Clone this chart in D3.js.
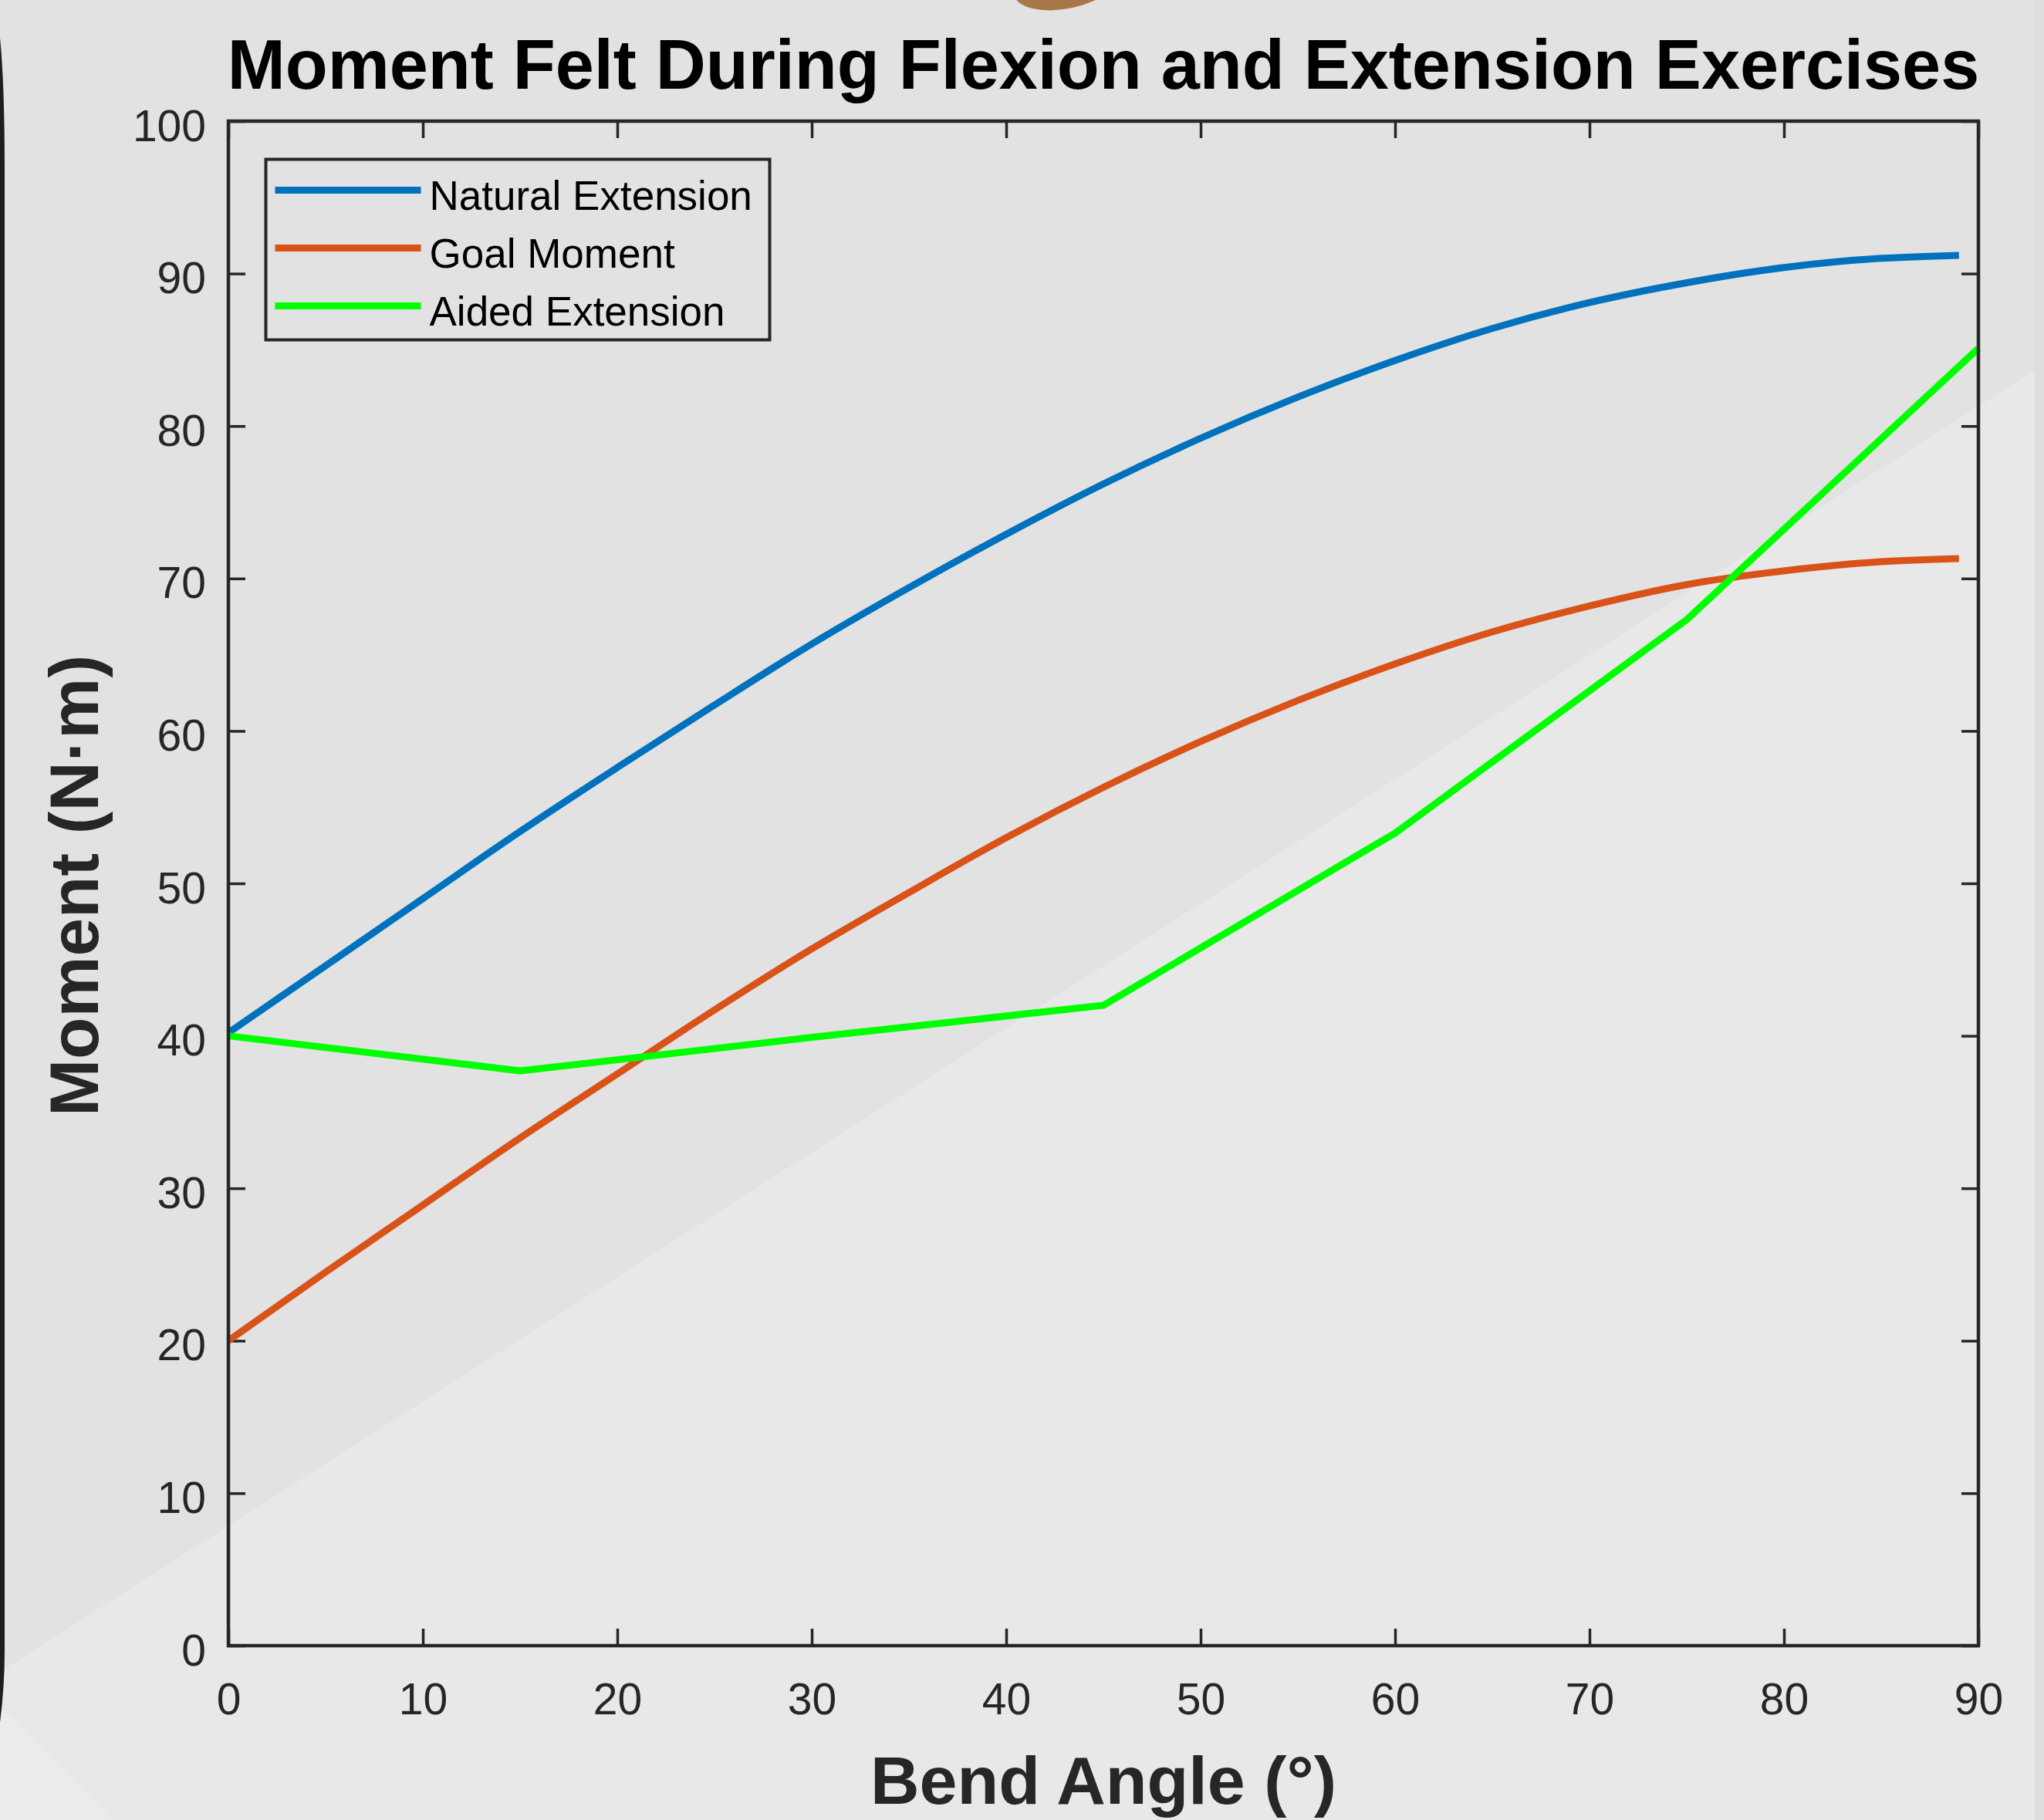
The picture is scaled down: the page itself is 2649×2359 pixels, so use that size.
<!DOCTYPE html>
<html>
<head>
<meta charset="utf-8">
<script src="https://cdn.jsdelivr.net/npm/d3@7"></script>
<style>
  body { margin: 0; background: #e2e2e2; }
  svg { display: block; }
</style>
</head>
<body>
<div class="chart-container"></div>
<script>
// values
const angles = [0, 5, 10, 15, 20, 25, 30, 35, 40, 45, 50, 55, 60, 65, 70, 75, 80, 85, 89];
const naturalExtension = [40.2, 44.6, 49.0, 53.4, 57.6, 61.7, 65.7, 69.4, 72.9, 76.2, 79.2, 81.9, 84.3, 86.4, 88.1, 89.4, 90.4, 91.0, 91.2];
const goalMoment = [20.0, 24.5, 28.9, 33.3, 37.5, 41.7, 45.7, 49.4, 53.0, 56.3, 59.3, 62.0, 64.4, 66.5, 68.2, 69.6, 70.5, 71.1, 71.3];
const aidedAngles = [0, 15, 30, 45, 60, 75, 90];
const aidedExtension = [40.0, 37.7, 39.9, 42.0, 53.3, 67.3, 85.1];

const xTicks = [0, 10, 20, 30, 40, 50, 60, 70, 80, 90];
const yTicks = [0, 10, 20, 30, 40, 50, 60, 70, 80, 90, 100];

const seriesNames = ['Natural Extension', 'Goal Moment', 'Aided Extension'];
const seriesColors = ['#0072bd', '#d95319', '#00ff00'];

const W = 2649, H = 2359;
const margin = { top: 157, right: W - 2564, bottom: H - 2133, left: 296 };
const width = W - margin.left - margin.right;
const height = H - margin.top - margin.bottom;
const FONT = '"Liberation Sans", Arial, Helvetica, sans-serif';

const series = [
    { name: seriesNames[0], color: seriesColors[0], curve: d3.curveMonotoneX,
      values: angles.map((a, i) => ({ x: a, y: naturalExtension[i] })) },
    { name: seriesNames[1], color: seriesColors[1], curve: d3.curveMonotoneX,
      values: angles.map((a, i) => ({ x: a, y: goalMoment[i] })) },
    { name: seriesNames[2], color: seriesColors[2], curve: d3.curveLinear,
      values: aidedAngles.map((a, i) => ({ x: a, y: aidedExtension[i] })) }
];

const svg = d3.select('.chart-container')
    .append('svg')
    .attr('width', W)
    .attr('height', H);

// background: photographed poster with faint light patches
svg.append('rect').attr('width', W).attr('height', H).attr('fill', '#e2e2e2');
svg.append('path')
    .attr('d', `M0,2167 L2649,472 L2649,${H} L0,${H} Z`)
    .attr('fill', '#e8e8e8');
svg.append('path')
    .attr('d', `M0,2213 L146,${H} L0,${H} Z`)
    .attr('fill', '#ececec');
svg.append('rect')
    .attr('x', 2637).attr('y', 0).attr('width', 12).attr('height', H)
    .attr('fill', '#dddddd');
svg.append('ellipse')
    .attr('cx', 1382).attr('cy', -22).attr('rx', 70).attr('ry', 33)
    .attr('transform', 'rotate(-12, 1382, -22)')
    .attr('fill', '#a9764a');
svg.append('path')
    .attr('d', 'M-4,40 Q3,100 3,220 L3,2140 Q3,2190 -4,2240')
    .attr('fill', 'none')
    .attr('stroke', '#1e1e1e')
    .attr('stroke-width', 6);

const g = svg.append('g')
    .attr('transform', `translate(${margin.left}, ${margin.top})`);

// scales
const xScale = d3.scaleLinear().domain([0, 90]).range([0, width]);
const yScale = d3.scaleLinear().domain([0, 100]).range([height, 0]);

// axes (box style, ticks pointing inward)
const tickLen = 22;
function styleAxis(sel) {
    sel.select('.domain').remove();
    sel.selectAll('.tick line')
        .attr('stroke', '#262626')
        .attr('stroke-width', 3.5);
    sel.selectAll('.tick text')
        .attr('fill', '#262626')
        .style('font-family', FONT)
        .style('font-size', '57px');
}

const xAxis = g.append('g')
    .attr('class', 'x axis')
    .attr('transform', `translate(0, ${height})`)
    .call(d3.axisBottom(xScale).tickValues(xTicks).tickSizeInner(-tickLen).tickSizeOuter(0).tickPadding(0))
    .call(styleAxis);
xAxis.selectAll('.tick text').attr('y', 89).attr('dy', 0);

g.append('g')
    .attr('class', 'x axis top')
    .call(d3.axisTop(xScale).tickValues(xTicks).tickSizeInner(-tickLen).tickSizeOuter(0).tickFormat(''))
    .call(styleAxis);

const yAxis = g.append('g')
    .attr('class', 'y axis')
    .call(d3.axisLeft(yScale).tickValues(yTicks).tickSizeInner(-tickLen).tickSizeOuter(0).tickPadding(29))
    .call(styleAxis);
yAxis.selectAll('.tick text').attr('dy', '0.44em');

g.append('g')
    .attr('class', 'y axis right')
    .attr('transform', `translate(${width}, 0)`)
    .call(d3.axisRight(yScale).tickValues(yTicks).tickSizeInner(-tickLen).tickSizeOuter(0).tickFormat(''))
    .call(styleAxis);

// lines
const lineGen = d3.line()
    .x(d => xScale(d.x))
    .y(d => yScale(d.y));

g.append('g')
    .attr('class', 'line-chart')
    .selectAll('.line-series')
    .data(series)
    .enter()
        .append('path')
        .attr('class', 'line-series')
        .attr('d', d => lineGen.curve(d.curve)(d.values))
        .attr('fill', 'none')
        .attr('stroke', d => d.color)
        .attr('stroke-width', 9)
        .attr('stroke-linejoin', 'round');

// axes box
g.append('rect')
    .attr('width', width)
    .attr('height', height)
    .attr('fill', 'none')
    .attr('stroke', '#262626')
    .attr('stroke-width', 4.5);

// legend
const legend = g.append('g')
    .attr('class', 'legend')
    .attr('transform', `translate(${344.5 - margin.left}, ${206.5 - margin.top})`);

legend.append('rect')
    .attr('width', 653)
    .attr('height', 234)
    .attr('fill', '#e2e2e2')
    .attr('stroke', '#262626')
    .attr('stroke-width', 4);

const legendItems = legend.selectAll('.legend-item')
    .data(series)
    .enter()
        .append('g')
        .attr('class', 'legend-item')
        .attr('transform', (d, i) => `translate(0, ${40 + i * 75})`);

legendItems.append('line')
    .attr('x1', 12).attr('x2', 201)
    .attr('stroke', d => d.color)
    .attr('stroke-width', 9);

legendItems.append('text')
    .attr('x', 212)
    .attr('y', 25)
    .text(d => d.name)
    .style('font-family', FONT)
    .style('font-size', '53px')
    .style('fill', '#000');

// title and axis labels
svg.append('text')
    .attr('x', margin.left + width / 2)
    .attr('y', 115)
    .attr('text-anchor', 'middle')
    .text('Moment Felt During Flexion and Extension Exercises')
    .style('font-family', FONT)
    .style('font-weight', 'bold')
    .style('font-size', '90px')
    .style('fill', '#000');

svg.append('text')
    .attr('x', margin.left + width / 2)
    .attr('y', 2338)
    .attr('text-anchor', 'middle')
    .text('Bend Angle (°)')
    .style('font-family', FONT)
    .style('font-weight', 'bold')
    .style('font-size', '88px')
    .style('fill', '#262626');

svg.append('text')
    .attr('transform', `translate(127, 1148) rotate(-90)`)
    .attr('text-anchor', 'middle')
    .text('Moment (N·m)')
    .style('font-family', FONT)
    .style('font-weight', 'bold')
    .style('font-size', '89px')
    .style('fill', '#262626');
</script>
</body>
</html>
